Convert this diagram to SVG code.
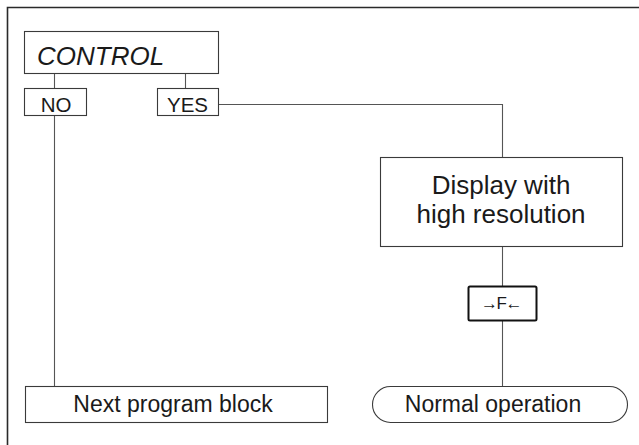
<svg xmlns="http://www.w3.org/2000/svg" width="639" height="445" viewBox="0 0 639 445">
<style>
.box{fill:#fff;stroke:#3a3a3a;stroke-width:1.1}
.conn{fill:none;stroke:#555;stroke-width:1.1}
.frame{fill:none;stroke:#2a2a2a;stroke-width:1.6}
text{font-family:"Liberation Sans",Arial,sans-serif;fill:#1a1a1a}
</style>
<rect width="639" height="445" fill="#fff"/>
<path class="frame" d="M7.5,445 V7.5 H639"/>
<g id="connectors">
<path class="conn" d="M54.5,73 V88"/>
<path class="conn" d="M185.5,73 V88"/>
<path class="conn" d="M54.5,115 V386"/>
<path class="conn" d="M218,104.5 H502.5 V157"/>
<path class="conn" d="M502.5,246 V286"/>
<path class="conn" d="M502.5,320 V386"/>
</g>
<g id="control">
<rect class="box" x="24.5" y="31.5" width="194" height="42"/>
<text x="37" y="65" font-size="26" font-style="italic">CONTROL</text>
</g>
<g id="no">
<rect class="box" x="24.5" y="88.5" width="62" height="27"/>
<text x="56" y="111.5" font-size="20.5" text-anchor="middle">NO</text>
</g>
<g id="yes">
<rect class="box" x="157.5" y="88.5" width="61" height="27"/>
<text x="187.5" y="111.5" font-size="20.5" text-anchor="middle">YES</text>
</g>
<g id="display">
<rect class="box" x="380.5" y="157.5" width="242" height="89"/>
<text x="501" y="194" font-size="26" text-anchor="middle">Display with</text>
<text x="501" y="223" font-size="26" text-anchor="middle">high resolution</text>
</g>
<g id="fkey">
<rect x="468.5" y="286.5" width="68" height="34" rx="1.5" fill="#fff" stroke="#111" stroke-width="2"/>
<text x="501" y="308.5" font-size="17" text-anchor="middle" letter-spacing="-1.5">→F←</text>
</g>
<g id="next">
<rect class="box" x="25.5" y="386.5" width="302" height="36"/>
<text x="173" y="412" font-size="23" text-anchor="middle">Next program block</text>
</g>
<g id="normal">
<rect class="box" x="372.5" y="386.5" width="255" height="36" rx="18" ry="18"/>
<text x="493" y="412" font-size="23" text-anchor="middle">Normal operation</text>
</g>
</svg>
